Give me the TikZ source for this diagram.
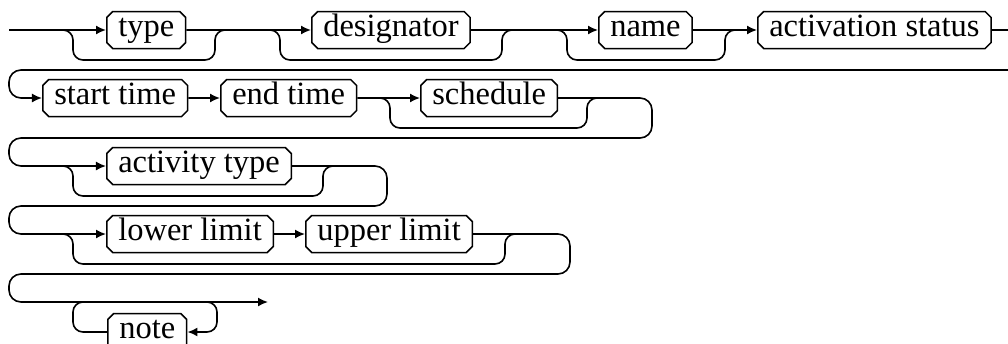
\documentclass[tikz,border=0pt]{standalone}
\usepackage{fontspec}
\setmainfont{Liberation Serif}
\usetikzlibrary{shapes, arrows.meta, positioning}

\tikzset{
  term/.style={draw, chamfered rectangle, chamfered rectangle sep=3pt,
    line width=1.5pt, anchor=west, inner xsep=8.5pt, inner ysep=1pt,
    text height=21pt, text depth=8pt, font=\fontsize{32.5}{38}\selectfont},
  track/.style={line width=1.6pt},
  bypass/.style={track, rounded corners=10pt},
  wrap/.style={track, rounded corners=12pt},
}

\begin{document}
\begin{tikzpicture}[x=1pt, y=-1pt, >={Latex[length=10pt, width=9pt]}]
    \useasboundingbox (0,0) rectangle (1008,343);
    \clip (0,0) rectangle (1008,343);

    % --- row 1 ---
    \coordinate (s0) at (9,30);
    \coordinate (f1) at (63,30);  \coordinate (j1) at (225,30);
    \coordinate (f2) at (270,30); \coordinate (j2) at (512,30);
    \coordinate (f3) at (557,30); \coordinate (j3) at (735,30);
    \node[term] (type)   at (106,30) {type};
    \node[term] (desig)  at (311,30) {designator};
    \node[term] (name)   at (598,30) {name};
    \node[term] (active) at (757,30) {activation status};
    \draw[track, ->] (s0) -- (type);
    \draw[track, ->] (type) -- (desig);
    \draw[track, ->] (desig) -- (name);
    \draw[track, ->] (name) -- (active);
    \draw[bypass] (f1) -- ++(10,0) -- ++(0,30) -| ([xshift=-10pt]j1) -- (j1);
    \draw[bypass] (f2) -- ++(10,0) -- ++(0,30) -| ([xshift=-10pt]j2) -- (j2);
    \draw[bypass] (f3) -- ++(10,0) -- ++(0,30) -| ([xshift=-10pt]j3) -- (j3);

    % --- row 2 ---
    \coordinate (f4) at (380,98); \coordinate (j4) at (597,98);
    \node[term] (start) at (42,98)  {start time};
    \node[term] (end)   at (220,98) {end time};
    \node[term] (sched) at (420,98) {schedule};
    \draw[wrap, ->] (active) -- (1022,30) -- (1022,70) -- (9,70) -- (9,98) -- (start);
    \draw[track, ->] (start) -- (end);
    \draw[track, ->] (end) -- (sched);
    \draw[bypass] (f4) -- ++(10,0) -- ++(0,30) -| ([xshift=-10pt]j4) -- (j4);

    % --- row 3 ---
    \coordinate (f5) at (63,166); \coordinate (j5) at (333,166);
    \node[term] (acttype) at (106,166) {activity type};
    \draw[wrap, ->] (sched) -- (652,98) -- (652,138) -- (9,138) -- (9,166) -- (acttype);
    \draw[bypass] (f5) -- ++(10,0) -- ++(0,30) -| ([xshift=-10pt]j5) -- (j5);

    % --- row 4 ---
    \coordinate (f6) at (63,234); \coordinate (j6) at (515,234);
    \node[term] (lower) at (106,234) {lower limit};
    \node[term] (upper) at (305,234) {upper limit};
    \draw[wrap, ->] (acttype) -- (387,166) -- (387,206) -- (9,206) -- (9,234) -- (lower);
    \draw[track, ->] (lower) -- (upper);
    \draw[bypass] (f6) -- ++(10,0) -- ++(0,30) -| ([xshift=-10pt]j6) -- (j6);

    % --- row 5 ---
    \coordinate (stop) at (268,302);
    \coordinate (l1) at (83,302); \coordinate (l2) at (207,302);
    \node[term] (note) at (107,332) {note};
    \draw[wrap, ->] (upper) -- (570,234) -- (570,274) -- (9,274) -- (9,302) -- (stop);
    \draw[bypass] (l1) -- ++(-10,0) -- ++(0,30) -- (note);
    \draw[bypass, ->] (l2) -- ++(10,0) -- ++(0,30) -- (note);
\end{tikzpicture}
\end{document}
